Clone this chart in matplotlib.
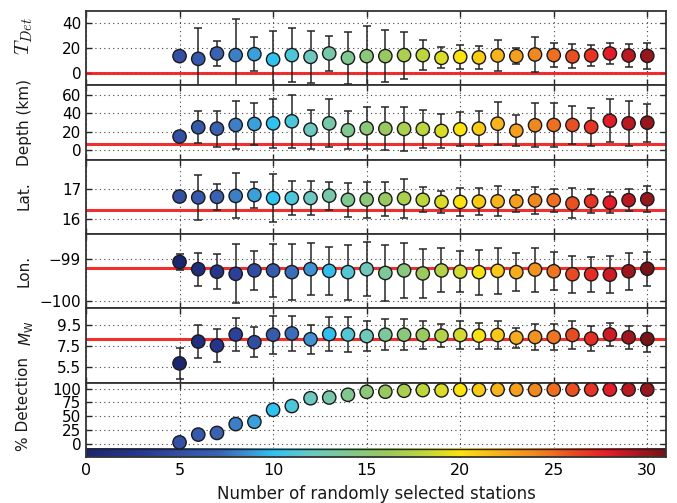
import numpy as np
import matplotlib
matplotlib.use("Agg")
import matplotlib.pyplot as plt
from matplotlib.colors import LinearSegmentedColormap, Normalize

# ---------------- data ----------------
stations = np.arange(5, 31)

tdet_mean = [13.4, 11.2, 15.5, 14.2, 15.0, 10.7, 14.2, 12.8, 15.5, 12.0, 13.4, 13.4, 14.2,
             14.2, 12.0, 12.8, 12.3, 13.9, 13.4, 14.7, 14.2, 13.1, 13.9, 15.5, 13.9, 13.6]
tdet_std = [0.0, 24.3, 10.0, 28.5, 13.6, 22.9, 21.9, 21.0, 14.0, 20.8, 24.0, 20.5, 18.8,
            12.2, 8.5, 9.6, 9.2, 12.1, 6.6, 14.0, 9.8, 9.6, 8.2, 8.1, 9.0, 10.5]

depth_mean = [14.7, 24.8, 23.3, 27.3, 28.4, 29.1, 31.3, 22.2, 29.1, 21.6, 23.7, 23.3, 23.0,
              23.0, 20.8, 22.7, 23.3, 28.7, 21.1, 27.0, 27.3, 27.3, 25.1, 31.9, 29.1, 29.8]
depth_std = [0.0, 17.5, 19.6, 26.5, 22.8, 27.0, 29.0, 21.5, 26.0, 21.0, 22.7, 23.5, 24.2,
             20.5, 18.3, 18.5, 19.2, 23.7, 16.7, 24.0, 23.5, 21.0, 20.8, 23.5, 24.5, 20.6]

lat_mean = [16.75, 16.72, 16.74, 16.77, 16.80, 16.70, 16.70, 16.70, 16.78, 16.64, 16.65, 16.66,
            16.69, 16.64, 16.57, 16.57, 16.58, 16.59, 16.59, 16.62, 16.63, 16.52, 16.59, 16.55,
            16.63, 16.66]
lat_std = [0.02, 0.75, 0.44, 0.75, 0.43, 0.80, 0.57, 0.56, 0.47, 0.57, 0.60, 0.56, 0.65,
           0.42, 0.38, 0.47, 0.45, 0.50, 0.37, 0.45, 0.38, 0.50, 0.40, 0.35, 0.37, 0.44]

lon_mean = [-99.08, -99.25, -99.31, -99.36, -99.28, -99.28, -99.32, -99.25, -99.29, -99.32,
            -99.25, -99.34, -99.28, -99.35, -99.28, -99.31, -99.32, -99.29, -99.32, -99.26,
            -99.30, -99.37, -99.37, -99.38, -99.30, -99.24]
lon_std = [0.18, 0.39, 0.42, 0.70, 0.46, 0.63, 0.67, 0.61, 0.57, 0.65, 0.64, 0.66, 0.65,
           0.57, 0.52, 0.48, 0.53, 0.55, 0.45, 0.52, 0.45, 0.44, 0.41, 0.44, 0.44, 0.40]

mw_mean = [5.87, 7.93, 7.56, 8.60, 7.87, 8.58, 8.70, 8.15, 8.64, 8.60, 8.45, 8.58, 8.58,
           8.55, 8.49, 8.55, 8.49, 8.55, 8.30, 8.36, 8.36, 8.55, 8.21, 8.60, 8.33, 8.18]
mw_std = [1.50, 1.58, 1.58, 1.54, 1.40, 1.80, 1.66, 1.37, 1.58, 1.63, 1.43, 1.48, 1.48,
          1.30, 1.10, 1.28, 1.23, 1.34, 0.93, 1.26, 1.23, 1.30, 1.17, 1.09, 1.09, 1.26]

detection = [2.5, 16.7, 19.7, 35.8, 40.0, 61.7, 68.5, 82.7, 84.0, 89.0, 94.4, 94.6, 96.3,
             97.5, 97.0, 98.0, 98.0, 98.5, 98.5, 98.0, 98.5, 98.5, 98.5, 98.5, 98.5, 98.5]

true_values = [0.0, 6.8, 16.3, -99.23, 8.18]

ylabels = [r"$T_{Det}$", "Depth (km)", "Lat.", "Lon.", r"$M_\mathrm{W}$", "% Detection"]
yticks = [[0, 20, 40], [0, 20, 40, 60], [16, 17], [-100, -99], [5.5, 7.5, 9.5],
          [0, 25, 50, 75, 100]]
xticks = [0, 5, 10, 15, 20, 25, 30]
xlabel = "Number of randomly selected stations"

# ---------------- style ----------------
cmap = LinearSegmentedColormap.from_list("custom", [
    (0.0, "#1b2670"),
    (3 / 31, "#27398f"),
    (5 / 31, "#3350a4"),
    (7 / 31, "#3a62b2"),
    (8.5 / 31, "#3f8ccf"),
    (10 / 31, "#30c4f0"),
    (12 / 31, "#6cc8c2"),
    (14 / 31, "#80c890"),
    (16 / 31, "#98c860"),
    (18 / 31, "#bed63e"),
    (20 / 31, "#fce30e"),
    (22 / 31, "#f8b41c"),
    (24 / 31, "#f08a20"),
    (25 / 31, "#ef6f20"),
    (26 / 31, "#e84f22"),
    (27 / 31, "#e73424"),
    (28 / 31, "#e51c28"),
    (29.5 / 31, "#a81820"),
    (1.0, "#761418"),
])

plt.rcParams["font.family"] = "DejaVu Sans"
fig = plt.figure(figsize=(6.77, 5.03), dpi=100)
left, right = 86 / 677, 666 / 677
top, bottom = 1 - 11 / 503, 1 - 457 / 503
n = 6
h = (top - bottom) / n
axes = [fig.add_axes([left, top - (i + 1) * h, right - left, h]) for i in range(n)]

ylims = [(-10, 49.5), (-10.5, 70.5), (15.5, 17.98), (-100.175, -98.42), (4.05, 11.07), (-24, 111)]
norms = [Normalize(0, 31), Normalize(0, 31), Normalize(0, 31), Normalize(5, 30),
         Normalize(5, 30), Normalize(0, 31)]
means = [tdet_mean, depth_mean, lat_mean, lon_mean, mw_mean, detection]
stds = [tdet_std, depth_std, lat_std, lon_std, mw_std, None]
label_y = [36, 122, 196, 271, 333, 404]
label_x = [24, 25, 24, 24, 27, 24]

for i, ax in enumerate(axes):
    ax.set_xlim(0, 31)
    ax.set_ylim(*ylims[i])
    ax.set_xticks(xticks)
    ax.set_yticks(yticks[i])
    ax.grid(True, linestyle=(0, (1, 3)), color="0.25", linewidth=0.8)
    ax.set_axisbelow(True)
    ax.tick_params(direction="in", top=True, right=True, length=4, width=1,
                   labelsize=11, color="0.15")
    for s in ax.spines.values():
        s.set_color("0.2")
        s.set_linewidth(1.3)
    if i < n - 1:
        ax.tick_params(labelbottom=False)
        ax.axhline(true_values[i], color="#f01818", lw=2.2, alpha=0.9, zorder=2)
    colors = cmap(norms[i](stations))
    if stds[i] is not None:
        ax.errorbar(stations, means[i], yerr=stds[i], fmt="none", ecolor="0.15",
                    elinewidth=1.1, capsize=3.2, capthick=1.1, zorder=3)
    ax.scatter(stations, means[i], s=92, c=colors, edgecolors="0.1", linewidths=1.0,
               zorder=4)
    kw = {}
    fs = 11
    if i == 0:
        kw["math_fontfamily"] = "cm"
        fs = 15
    fig.text(label_x[i] / 677, 1 - label_y[i] / 503, ylabels[i], rotation=90,
             ha="center", va="center", fontsize=fs, color="0.1", **kw)

# colour bar strip in last panel
axd = axes[-1]
grad = np.linspace(0, 1, 512)[None, :]
axd.imshow(grad, extent=[0, 31, -24, -9], aspect="auto", cmap=cmap, zorder=1,
           interpolation="bilinear")
axd.axhline(-9, color="0.15", lw=1.0, zorder=2)
axd.set_ylim(-24, 111)
axd.set_xlim(0, 31)
axd.set_xlabel(xlabel, fontsize=12, color="0.1", labelpad=5)
axd.tick_params(axis="x", labelsize=11.5, pad=4)

fig.savefig("out.png", dpi=100)
